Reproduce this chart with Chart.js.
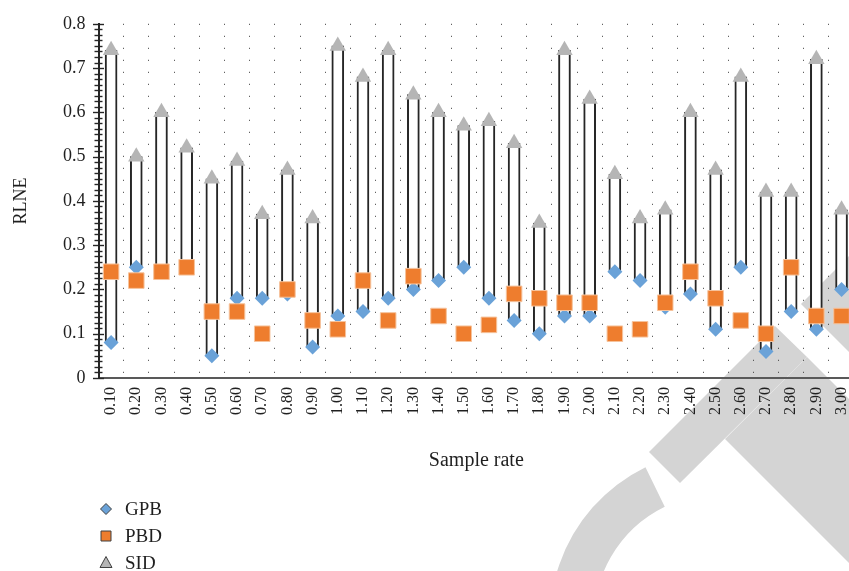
<!DOCTYPE html>
<html>
<head>
<meta charset="utf-8">
<title>RLNE by sample rate</title>
<script src="https://cdn.jsdelivr.net/npm/chart.js@4.4.1/dist/chart.umd.min.js"></script>
<style>
  html, body { margin: 0; padding: 0; background: #ffffff; overflow: hidden; }
  #wrap { width: 849px; height: 571px; overflow: hidden; position: relative; }
  canvas { display: block; }
</style>
</head>
<body>
<div id="wrap"><canvas id="chart" width="870" height="571"></canvas></div>
<script>
// Sample rates on the category axis
const sampleRates = ['0.10','0.20','0.30','0.40','0.50','0.60','0.70','0.80','0.90','1.00',
                     '1.10','1.20','1.30','1.40','1.50','1.60','1.70','1.80','1.90','2.00',
                     '2.10','2.20','2.30','2.40','2.50','2.60','2.70','2.80','2.90','3.00'];

// RLNE per method
const gpb = [0.08,0.25,0.24,0.25,0.05,0.18,0.18,0.19,0.07,0.14,
             0.15,0.18,0.20,0.22,0.25,0.18,0.13,0.10,0.14,0.14,
             0.24,0.22,0.16,0.19,0.11,0.25,0.06,0.15,0.11,0.20];
const pbd = [0.24,0.22,0.24,0.25,0.15,0.15,0.10,0.20,0.13,0.11,
             0.22,0.13,0.23,0.14,0.10,0.12,0.19,0.18,0.17,0.17,
             0.10,0.11,0.17,0.24,0.18,0.13,0.10,0.25,0.14,0.14];
const sid = [0.74,0.50,0.60,0.52,0.45,0.49,0.37,0.47,0.36,0.75,
             0.68,0.74,0.64,0.60,0.57,0.58,0.53,0.35,0.74,0.63,
             0.46,0.36,0.38,0.60,0.47,0.68,0.42,0.42,0.72,0.38];

// Value axis
const yMin = 0, yMax = 0.8, yMajor = 0.1, yMinor = 0.0125;

const SERIF = '"Liberation Serif", "DejaVu Serif", serif';
const INK = '#1f1f1f';

const colors = {
  gpb: '#6aa2d8',
  pbd: '#ee7d2e',
  pbdEdge: '#f6c39c',
  sid: '#b5b5b5'
};

// Light grey emblem behind the plot, lower right corner
const cornerEmblem = {
  id: 'cornerEmblem',
  beforeDraw(chart) {
    const ctx = chart.ctx;
    ctx.save();
    ctx.fillStyle = '#d4d4d4';
    const poly = pts => {
      ctx.beginPath();
      ctx.moveTo(pts[0][0], pts[0][1]);
      for (let i = 1; i < pts.length; i++) ctx.lineTo(pts[i][0], pts[i][1]);
      ctx.closePath();
      ctx.fill();
    };
    poly([[649,452],[680,483],[807,357],[775,326]]);
    poly([[725,439],[807,357],[980,530],[980,694]]);
    poly([[801,304],[860,245],[860,363]]);
    const cx = 720, cy = 620, rOut = 170, rIn = 126;
    const a0 = -116 * Math.PI / 180, a1 = -240 * Math.PI / 180;
    ctx.beginPath();
    ctx.arc(cx, cy, rOut, a0, a1, true);
    ctx.arc(cx, cy, rIn, a1, a0, false);
    ctx.closePath();
    ctx.fill();
    ctx.restore();
  }
};

// Major and minor tick marks crossing the value axis
const valueAxisTicks = {
  id: 'valueAxisTicks',
  afterDraw(chart) {
    const y = chart.scales.y;
    const ctx = chart.ctx;
    const x0 = chart.chartArea.left;
    ctx.save();
    ctx.strokeStyle = '#262626';
    ctx.lineWidth = 1.4;
    const steps = Math.round((yMax - yMin) / yMinor);
    for (let i = 0; i <= steps; i++) {
      const v = yMin + i * yMinor;
      const py = Math.round(y.getPixelForValue(v)) + 0.5;
      const half = (i % Math.round(yMajor / yMinor) === 0) ? 5.5 : 4;
      ctx.beginPath();
      ctx.moveTo(x0 - half, py);
      ctx.lineTo(x0 + half, py);
      ctx.stroke();
    }
    ctx.restore();
  }
};

// Vertical legend under the axis title
const stackedLegend = {
  id: 'stackedLegend',
  afterDraw(chart) {
    const ctx = chart.ctx;
    const items = chart.data.datasets.filter(d => d.inLegend);
    const mx = 106, tx = 125, top = 509, gap = 27;
    ctx.save();
    ctx.font = '19px ' + SERIF;
    ctx.textBaseline = 'middle';
    ctx.textAlign = 'left';
    items.forEach((d, i) => {
      const cy = top + i * gap;
      ctx.beginPath();
      if (d.pointStyle === 'rectRot') {
        ctx.moveTo(mx - 5.5, cy); ctx.lineTo(mx, cy - 5.5);
        ctx.lineTo(mx + 5.5, cy); ctx.lineTo(mx, cy + 5.5);
      } else if (d.pointStyle === 'rect') {
        ctx.rect(mx - 5, cy - 5, 10, 10);
      } else {
        ctx.moveTo(mx, cy - 6.5); ctx.lineTo(mx + 6, cy + 4.5); ctx.lineTo(mx - 6, cy + 4.5);
      }
      ctx.closePath();
      ctx.fillStyle = d.pointBackgroundColor;
      ctx.fill();
      ctx.strokeStyle = '#404040';
      ctx.lineWidth = 1;
      ctx.stroke();
      ctx.fillStyle = INK;
      ctx.fillText(d.label, tx, cy + 1);
    });
    ctx.restore();
  }
};

const markerSet = (label, values, style, radius, fill, edge, edgeWidth, order) => ({
  type: 'line',
  label,
  data: values,
  showLine: false,
  pointStyle: style,
  pointRadius: radius,
  pointHoverRadius: radius,
  pointBackgroundColor: fill,
  pointBorderColor: edge,
  pointBorderWidth: edgeWidth,
  borderColor: fill,
  backgroundColor: fill,
  order,
  inLegend: true
});

new Chart(document.getElementById('chart'), {
  type: 'bar',
  data: {
    labels: sampleRates,
    datasets: [
      markerSet('GPB', gpb, 'rectRot', 7.5, colors.gpb, colors.gpb, 0, 2),
      markerSet('PBD', pbd, 'rect', 11, colors.pbd, colors.pbdEdge, 1, 1),
      markerSet('SID', sid, 'triangle', 9.5, colors.sid, colors.sid, 0, 3),
      {
        type: 'bar',
        label: 'GPB–SID',
        data: gpb.map((g, i) => [g, sid[i]]),
        backgroundColor: '#ffffff',
        borderColor: '#262626',
        borderWidth: 2,
        borderSkipped: false,
        barThickness: 12,
        order: 4
      }
    ]
  },
  options: {
    responsive: false,
    animation: false,
    devicePixelRatio: 1,
    layout: { padding: { left: 6, top: 21.7, right: 15.4, bottom: 95 } },
    plugins: {
      legend: { display: false },
      tooltip: { enabled: false }
    },
    scales: {
      x: {
        type: 'category',
        offset: true,
        grid: { display: true, offset: true, color: '#3a3a3a', lineWidth: 1, drawTicks: false },
        border: { display: true, color: '#595959', width: 2, dash: [1, 11] },
        ticks: {
          autoSkip: false, minRotation: 90, maxRotation: 90, padding: 9,
          color: INK, font: { family: SERIF, size: 16 }
        },
        title: {
          display: true, text: 'Sample rate', color: INK,
          font: { family: SERIF, size: 20 }, padding: { top: 0, bottom: 3 }
        },
        afterFit(scale) { scale.height = 98; }
      },
      y: {
        min: yMin, max: yMax,
        grid: { display: false, drawTicks: false },
        border: { display: true, color: '#262626', width: 2 },
        ticks: {
          stepSize: yMajor, padding: 13, color: INK,
          font: { family: SERIF, size: 18 },
          callback: v => (Math.abs(v) < 1e-9 ? '0' : v.toFixed(1))
        },
        title: {
          display: true, text: 'RLNE', color: INK,
          font: { family: SERIF, size: 18 }, padding: { top: 4, bottom: 0 }
        },
        afterFit(scale) { scale.width = 92.5; }
      }
    }
  },
  plugins: [cornerEmblem, valueAxisTicks, stackedLegend]
});
</script>
</body>
</html>
